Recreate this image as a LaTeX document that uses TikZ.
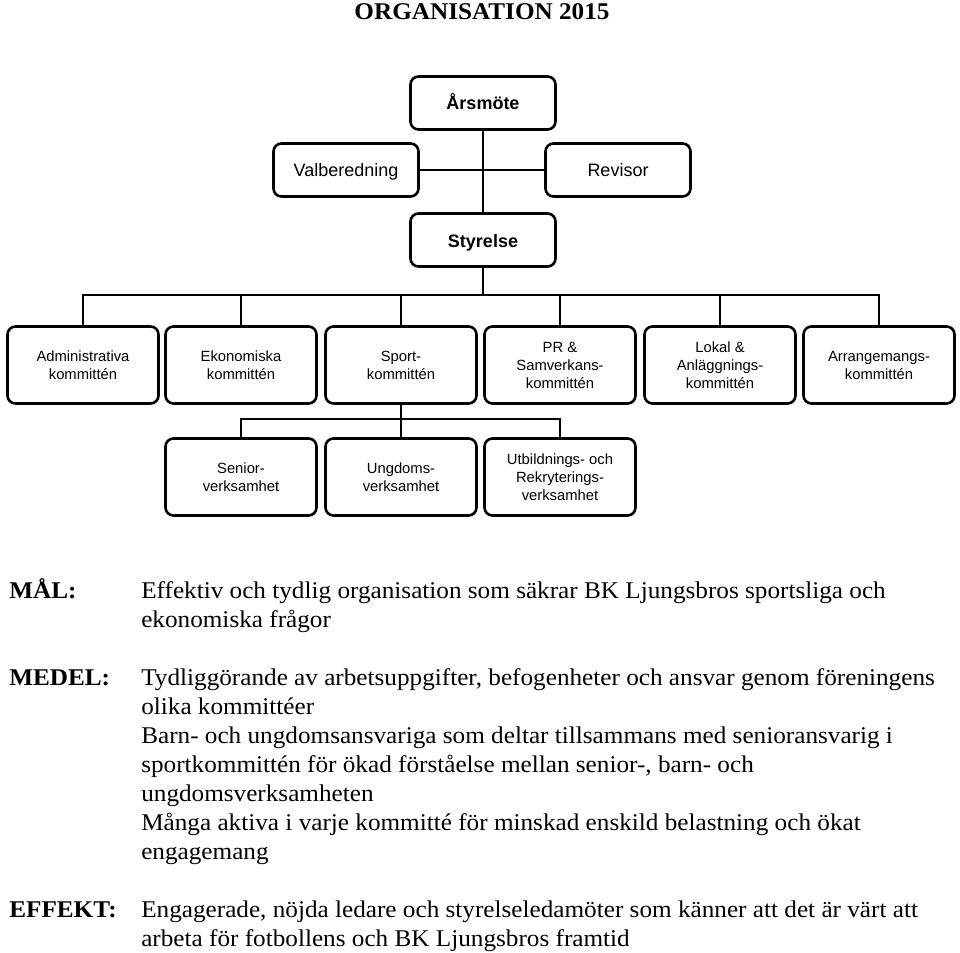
\documentclass[tikz,border=0pt]{standalone}
\usepackage{fontspec}
\setmainfont{Liberation Serif}[FakeStretch=1.05]
\newfontfamily\boxfont{Liberation Sans}
\begin{document}
\begin{tikzpicture}
  [x=1pt,y=-1pt,line width=2.6pt,
   every node/.style={draw,rounded corners=8pt,align=center,
     font=\boxfont\fontsize{18}{22}\selectfont},
   head/.style={minimum width=145pt,minimum height=53pt,
     text height=15pt,text depth=1pt},
   unit/.style={minimum width=151pt,minimum height=77pt,
     font=\boxfont\fontsize{14.8}{18}\selectfont},
   plain/.style={draw=none,rounded corners=0pt,align=left,inner sep=0pt,
     font=\fontsize{24}{29}\selectfont},
   label/.style={plain,font=\bfseries\fontsize{24}{29}\selectfont}]
  \useasboundingbox (0,0) rectangle (960,952);

  \node[label,anchor=base] (title) at (482,20) {ORGANISATION 2015};

  \node[head] (aarsmote) at (483,103) {\bfseries Årsmöte};
  \node[head] (valb) at (346,170) {Valberedning};
  \node[head] (revisor) at (618,170) {Revisor};
  \node[head] (styrelse) at (483,240) {\bfseries Styrelse};

  \node[unit] (adm) at (83,365) {Administrativa\\kommittén};
  \node[unit] (eko) at (241,365) {Ekonomiska\\kommittén};
  \node[unit] (sport) at (401,365) {Sport-\\kommittén};
  \node[unit] (pr) at (560,365) {PR \&\\Samverkans-\\kommittén};
  \node[unit] (lokal) at (720,365) {Lokal \&\\Anläggnings-\\kommittén};
  \node[unit] (arr) at (879,365) {Arrangemangs-\\kommittén};

  \node[unit] (senior) at (241,477) {Senior-\\verksamhet};
  \node[unit] (ungdom) at (401,477) {Ungdoms-\\verksamhet};
  \node[unit] (utb) at (560,477) {Utbildnings- och\\Rekryterings-\\verksamhet};

  \coordinate (bus1) at (483,295);
  \coordinate (bus2) at (401,419);
  \path[draw]
        (aarsmote) edge (styrelse)
        (valb) edge (revisor)
        (styrelse) edge (bus1)
        (sport) edge (bus2);
  \draw (bus1) -| (adm);
  \draw (bus1) -| (arr);
  \foreach \n in {eko,sport,pr,lokal}
    \draw (bus1) -| (\n);
  \draw (bus2) -| (senior);
  \draw (bus2) -| (utb);
  \draw (bus2) -- (ungdom);

  % goals (base of a text block = its last line)
  \node[label,anchor=base west] (mal) at (8,598) {MÅL:};
  \node[plain,anchor=base west] (maltext) at (140,627)
    {Effektiv och tydlig organisation som säkrar BK Ljungsbros sportsliga och\\
     ekonomiska frågor};
  \node[label,anchor=base west] (medel) at (8,685) {MEDEL:};
  \node[plain,anchor=base west] (medeltext) at (140,859)
    {Tydliggörande av arbetsuppgifter, befogenheter och ansvar genom föreningens\\
     olika kommittéer\\
     Barn- och ungdomsansvariga som deltar tillsammans med senioransvarig i\\
     sportkommittén för ökad förståelse mellan senior-, barn- och\\
     ungdomsverksamheten\\
     Många aktiva i varje kommitté för minskad enskild belastning och ökat\\
     engagemang};
  \node[label,anchor=base west] (effekt) at (8,917) {EFFEKT:};
  \node[plain,anchor=base west] (effekttext) at (140,946)
    {Engagerade, nöjda ledare och styrelseledamöter som känner att det är värt att\\
     arbeta för fotbollens och BK Ljungsbros framtid};
\end{tikzpicture}
\end{document}
